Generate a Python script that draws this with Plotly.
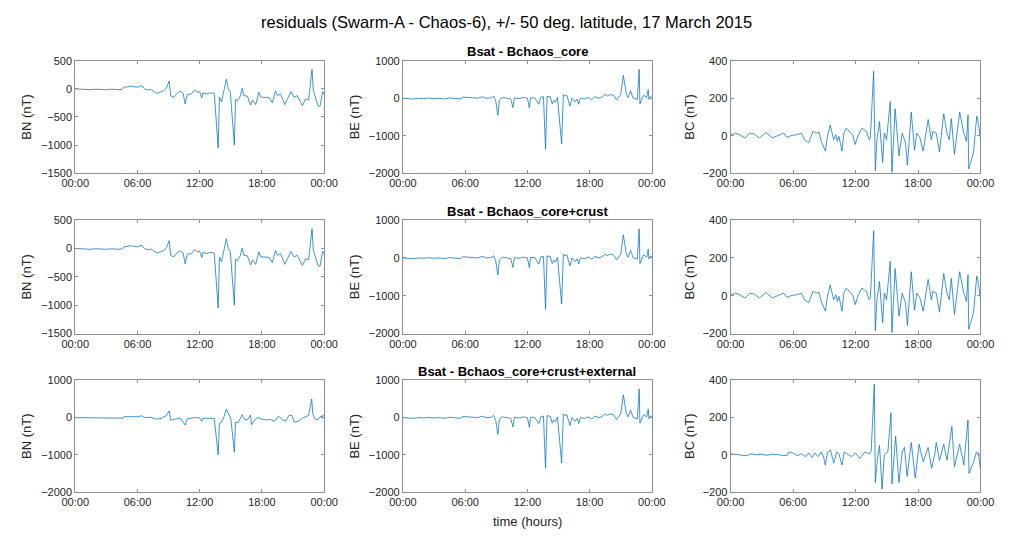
import plotly.graph_objects as go

# ---------------- data (hour of day, nT) ----------------
bn_core = [(0,0),(0.5,-5),(1,-5),(1.5,-15),(2,-5),(2.5,-10),(3,-15),(3.5,-5),(4,-15),(4.5,-10),
           (4.7,30),(5.0,35),(5.3,50),(5.6,40),(6.0,30),(6.4,60),(6.7,-5),(7.0,-20),(7.3,-10),
           (7.6,-50),(7.9,-80),(8.2,-60),(8.5,-40),(8.8,20),(9.05,140),(9.2,-120),(9.5,-150),
           (9.8,-80),(10.1,-40),(10.4,-80),(10.6,-270),(10.8,-100),(11.2,-90),(11.5,-20),
           (11.8,-60),(12.0,-50),(12.2,-160),(12.3,-70),(12.7,-90),(13.0,-70),(13.4,-80),
           (13.78,-1050),(13.9,-150),(14.1,-230),(14.35,-20),(14.57,170),(14.75,0),(14.95,-60),
           (15.34,-1000),(15.45,-190),(15.65,-210),(15.9,-130),(16.1,10),(16.25,-120),(16.6,-130),
           (16.9,-290),(17.1,-200),(17.4,-280),(17.7,-60),(17.9,-150),(18.3,-150),(18.7,-160),
           (19.0,-250),(19.3,-40),(19.5,-120),(19.8,-90),(20.2,-280),(20.5,-150),(20.8,-50),
           (21.1,-150),(21.4,-120),(21.9,-300),(22.2,-180),(22.5,-200),(22.83,350),(22.95,-20),
           (23.4,-300),(23.6,-310),(23.85,-50),(24.0,-100)]

be_core = [(0,0),(0.5,-10),(1,-20),(1.5,0),(2,-10),(2.5,5),(3,-10),(3.5,0),(4,-20),(4.5,10),
           (5,0),(5.5,-20),(5.8,30),(6.3,20),(6.8,20),(7.2,0),(7.7,40),(8.0,0),(8.5,10),(8.75,60),
           (8.95,-80),(9.15,-450),(9.3,-50),(9.6,20),(10.0,0),(10.4,-20),(10.6,-250),(10.75,10),
           (11.2,-10),(11.6,20),(12.0,0),(12.19,-260),(12.3,10),(12.7,10),(13.1,-160),(13.3,30),
           (13.55,40),(13.75,-1360),(13.9,50),(14.2,40),(14.4,-150),(14.55,-60),(14.7,-110),
           (14.9,20),(15.3,-1220),(15.47,100),(15.6,60),(15.8,80),(16.1,-210),(16.3,0),(16.6,-100),
           (16.8,-20),(16.95,-160),(17.1,0),(17.5,-20),(17.9,20),(18.2,-40),(18.5,40),(18.9,0),
           (19.2,30),(19.5,100),(19.7,60),(20.0,100),(20.3,80),(20.6,-50),(21.0,100),(21.25,610),
           (21.55,100),(21.7,20),(21.95,200),(22.2,0),(22.6,-30),(22.78,770),(22.85,-150),
           (23.2,80),(23.5,20),(23.65,230),(23.72,-30),(23.9,50),(24,20)]

bc_core = [(0,5),(0.44,14),(0.9,5),(1.37,-12),(1.84,14),(2.3,8),(2.77,-12),(3.4,17),(4.0,-12),
           (4.64,5),(5.1,14),(5.4,-9),(5.9,2),(6.35,5),(6.8,14),(7.1,-21),(7.5,-38),(7.9,23),
           (8.2,14),(8.5,17),(8.7,-30),(9.1,-82),(9.3,-3),(9.56,57),(9.9,-21),(10.1,5),(10.25,-30),
           (10.4,-3),(10.7,-82),(10.87,14),(11.12,40),(11.5,17),(11.75,0),(11.96,-47),(12.27,5),
           (12.6,40),(13.05,23),(13.3,-21),(13.42,-12),(13.74,344),(13.9,-186),(14.05,-21),
           (14.3,75),(14.6,-143),(14.76,14),(14.98,-21),(15.33,183),(15.5,-195),(15.8,144),
           (16.17,-108),(16.48,14),(16.8,-38),(16.98,-157),(17.35,127),(17.66,-77),(17.88,14),
           (18.19,-12),(18.5,-82),(18.97,87),(19.28,-21),(19.43,23),(19.75,14),(20.06,-87),
           (20.47,118),(20.78,14),(21.0,-21),(21.2,92),(21.5,-99),(22.0,127),(22.4,14),
           (22.65,-30),(22.8,110),(22.87,-177),(23.33,-90),(23.64,104),(23.8,66),(24,-21)]

# core+crust residuals look practically identical to the core-only ones
bn_crust = list(bn_core)
be_crust = list(be_core)
bc_crust = list(bc_core)

bn_ext = [(0,0),(1,-5),(2,-5),(3,-10),(4,-10),(4.6,-15),(4.7,25),(5.3,30),(6.0,25),(6.4,50),
          (6.7,0),(7.3,10),(7.8,-40),(8.3,-20),(8.8,60),(9.05,180),(9.2,-70),(9.6,-40),(10.1,-10),
          (10.6,-200),(10.8,-30),(11.5,0),(12.0,-10),(12.2,-100),(12.3,-20),(13.0,-20),(13.4,-20),
          (13.78,-1000),(13.9,-150),(14.1,-120),(14.35,30),(14.57,230),(14.8,100),(15.0,-20),
          (15.34,-930),(15.45,-120),(15.7,-140),(16.1,80),(16.3,-40),(16.6,-60),(16.9,70),
          (17.0,-190),(17.3,-60),(17.6,0),(18.0,-40),(18.4,-60),(18.8,-50),(19.2,-100),(19.6,40),
          (20.0,-60),(20.3,-90),(20.6,60),(20.9,60),(21.1,-120),(21.5,-100),(22.0,0),(22.5,60),
          (22.8,500),(22.9,100),(23.1,-40),(23.4,-50),(23.7,50),(23.8,-20),(23.9,70),(24,50)]

be_ext = list(be_core)

bc_ext = [(0,5),(0.5,3),(1,0),(1.5,-5),(2,5),(2.5,0),(3,3),(3.5,-3),(4,3),(4.5,0),(5,-3),
          (5.4,-5),(5.6,15),(6.0,10),(6.4,-5),(6.8,5),(7.2,-10),(7.5,10),(7.8,-15),(8.1,10),
          (8.4,-10),(8.7,15),(8.9,-5),(9.1,-55),(9.3,15),(9.6,25),(9.9,-45),(10.2,15),(10.4,5),
          (10.7,-55),(10.9,15),(11.2,5),(11.6,-10),(12.0,10),(12.4,-20),(12.9,15),(13.36,5),
          (13.5,20),(13.8,380),(13.9,-150),(14.1,-20),(14.3,50),(14.55,-185),(14.76,0),(15.1,15),
          (15.4,227),(15.5,-157),(15.85,100),(16.17,-150),(16.48,15),(16.7,40),(16.95,-117),
          (17.35,66),(17.73,-125),(18.1,57),(18.5,-38),(18.97,40),(19.3,-73),(19.6,0),(19.75,66),
          (20.06,-30),(20.47,57),(20.78,-30),(21.25,153),(21.5,-64),(22.0,57),(22.4,-55),
          (22.8,188),(22.9,-100),(23.33,-40),(23.6,14),(23.8,10),(24,-82)]

time_ticks = [0, 6, 12, 18, 24]
time_labels = ["00:00", "06:00", "12:00", "18:00", "00:00"]

row_titles = ["Bsat - Bchaos_core", "Bsat - Bchaos_core+crust", "Bsat - Bchaos_core+crust+external"]
col_labels = ["BN (nT)", "BE (nT)", "BC (nT)"]

grid = [[bn_core, be_core, bc_core],
        [bn_crust, be_crust, bc_crust],
        [bn_ext, be_ext, bc_ext]]

yranges = [[[-1500, 500], [-2000, 1000], [-200, 400]],
           [[-1500, 500], [-2000, 1000], [-200, 400]],
           [[-2000, 1000], [-2000, 1000], [-200, 400]]]
yticks = [[[-1500, -1000, -500, 0, 500], [-2000, -1000, 0, 1000], [-200, 0, 200, 400]],
          [[-1500, -1000, -500, 0, 500], [-2000, -1000, 0, 1000], [-200, 0, 200, 400]],
          [[-2000, -1000, 0, 1000], [-2000, -1000, 0, 1000], [-200, 0, 200, 400]]]

# ---------------- layout geometry (pixels) ----------------
W, H = 1012, 539
col_px = [(63, 319), (400, 656), (737, 994)]
row_px = [(56, 171), (219, 335), (383, 497)]
standoffs = [6, 6, 5]

LINE = "#0072BD"
AX = "#8f8f8f"
TXT = "#262626"
FONT = "Liberation Sans, Arial, Helvetica, sans-serif"

fig = go.Figure()
layout = dict(width=W, height=H, margin=dict(l=0, r=0, t=0, b=0),
              paper_bgcolor="white", plot_bgcolor="white", showlegend=False,
              font=dict(family=FONT, size=11, color=TXT))
annotations = []

k = 0
for r in range(3):
    for c in range(3):
        k += 1
        xa = "xaxis" if k == 1 else f"xaxis{k}"
        ya = "yaxis" if k == 1 else f"yaxis{k}"
        xref = "x" if k == 1 else f"x{k}"
        yref = "y" if k == 1 else f"y{k}"
        pts = grid[r][c]
        fig.add_trace(go.Scatter(x=[p[0] for p in pts], y=[p[1] for p in pts],
                                 mode="lines", line=dict(color=LINE, width=0.75),
                                 xaxis=xref, yaxis=yref, hoverinfo="skip"))
        x0, x1 = col_px[c]
        y0, y1 = row_px[r]
        layout[xa] = dict(domain=[x0 / W, x1 / W], range=[0, 24], anchor=yref,
                          tickvals=time_ticks, ticktext=time_labels,
                          showline=True, linecolor=AX, linewidth=1, mirror="ticks",
                          ticks="inside", ticklen=3, tickcolor=AX, showgrid=False,
                          zeroline=False, tickfont=dict(size=11, color=TXT))
        layout[ya] = dict(domain=[1 - y1 / H, 1 - y0 / H], range=yranges[r][c], anchor=xref,
                          tickvals=yticks[r][c],
                          title=dict(text=col_labels[c], standoff=standoffs[c],
                                     font=dict(size=13, color=TXT)),
                          showline=True, linecolor=AX, linewidth=1, mirror="ticks",
                          ticks="inside", ticklen=3, tickcolor=AX, showgrid=False,
                          zeroline=False, tickfont=dict(size=11, color=TXT))
    # subplot title above middle column
    x0, x1 = col_px[1]
    annotations.append(dict(text="<b>" + row_titles[r] + "</b>", x=(x0 + x1) / 2 / W,
                            y=1 - (row_px[r][0] - 9) / H, xref="paper", yref="paper",
                            showarrow=False, font=dict(size=13, color="#000000"),
                            xanchor="center", yanchor="middle"))

annotations.append(dict(text="residuals (Swarm-A - Chaos-6), +/- 50 deg. latitude, 17 March 2015",
                        x=506 / W, y=1 - 16 / H, xref="paper", yref="paper", showarrow=False,
                        font=dict(size=16.5, color="#000000"), xanchor="center", yanchor="middle"))
annotations.append(dict(text="time (hours)", x=528 / W, y=1 - 527 / H, xref="paper", yref="paper",
                        showarrow=False, font=dict(size=13, color=TXT),
                        xanchor="center", yanchor="middle"))

layout["annotations"] = annotations
fig.update_layout(**layout)
fig.write_html("out.html")
